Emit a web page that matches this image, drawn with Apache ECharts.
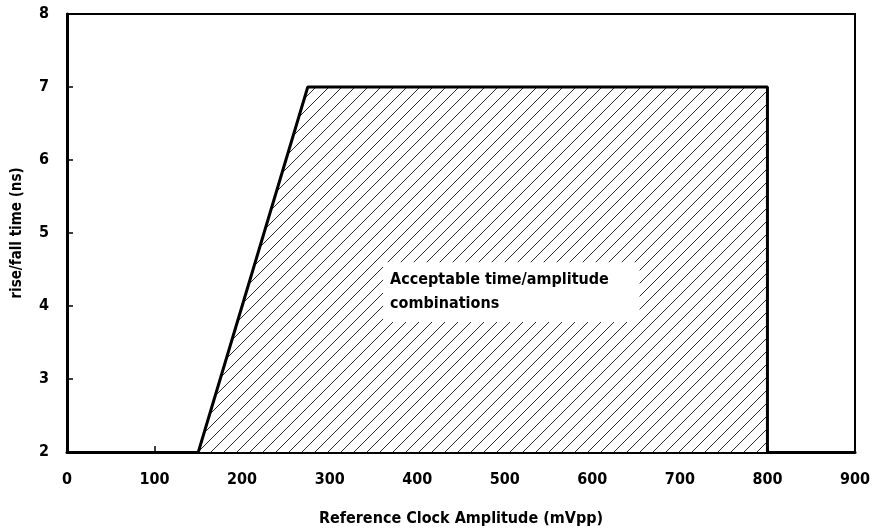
<!DOCTYPE html>
<html><head><meta charset="utf-8">
<script src="https://cdn.jsdelivr.net/npm/echarts@6/dist/echarts.min.js"></script>
<style>html,body{margin:0;padding:0;background:#fff}#c{width:878px;height:529px}</style>
</head><body><div id="c"></div>
<script>
const xTicks = [0,100,200,300,400,500,600,700,800,900];
const yTicks = [2,3,4,5,6,7,8];
const regionX = [150, 275, 800, 800];
const regionY = [2, 7, 7, 2];
const noteText = ['Acceptable time/amplitude', 'combinations'];
const noteBox = [[361, 4.60], [654, 3.78]];

const FONT = '"DejaVu Sans Condensed","Liberation Sans Narrow",sans-serif';
const S = 13;
const pc = document.createElement('canvas');
pc.width = S; pc.height = S;
const g = pc.getContext('2d');
g.fillStyle = '#fff'; g.fillRect(0,0,S,S);
g.strokeStyle = '#2a2a2a'; g.lineWidth = 1;
g.beginPath(); g.moveTo(-1,S+1); g.lineTo(S+1,-1); g.stroke();
g.beginPath(); g.moveTo(-1,1); g.lineTo(1,-1); g.stroke();
g.beginPath(); g.moveTo(S-1,S+1); g.lineTo(S+1,S-1); g.stroke();

const chart = echarts.init(document.getElementById('c'), null, {renderer:'canvas'});
chart.setOption({
  animation:false,
  backgroundColor:'#fff',
  grid:{left:67,right:23,top:14,bottom:77,outerBoundsMode:'none',containLabel:false,show:true,borderColor:'#000',borderWidth:2,backgroundColor:'transparent'},
  xAxis:{type:'value',min:xTicks[0],max:xTicks[xTicks.length-1],interval:100,
    name:'Reference Clock Amplitude (mVpp)',nameLocation:'middle',nameGap:59,
    nameTextStyle:{fontFamily:FONT,fontWeight:'bold',fontSize:16,color:'#000'},
    axisLine:{lineStyle:{color:'#000',width:3}},
    axisTick:{inside:true,length:6,lineStyle:{color:'#000',width:1.5}},
    axisLabel:{fontFamily:FONT,fontWeight:'bold',fontSize:16,color:'#000',margin:20},
    splitLine:{show:false}},
  yAxis:{type:'value',min:yTicks[0],max:yTicks[yTicks.length-1],interval:1,
    name:'rise/fall time (ns)',nameLocation:'middle',nameGap:42,
    nameTextStyle:{fontFamily:FONT,fontWeight:'bold',fontSize:15,color:'#000'},
    axisLine:{lineStyle:{color:'#000',width:3}},
    axisTick:{inside:true,length:6,lineStyle:{color:'#000',width:1.5}},
    axisLabel:{fontFamily:FONT,fontWeight:'bold',fontSize:16,color:'#000',margin:18},
    splitLine:{show:false}},
  series:[{
    type:'line',
    data:regionX.map((x,i)=>[x,regionY[i]]),
    symbol:'none',
    lineStyle:{color:'#000',width:3},
    areaStyle:{color:{image:pc,repeat:'repeat'},opacity:1,origin:'start'},
    z:3
  },{
    type:'custom',
    data:[[noteBox[0][0],noteBox[0][1],noteBox[1][0],noteBox[1][1]]],
    z:5,
    renderItem:function(params, api){
      const p1 = api.coord([api.value(0), api.value(1)]);
      const p2 = api.coord([api.value(2), api.value(3)]);
      return {type:'group',children:[
        {type:'rect',shape:{x:p1[0],y:p1[1],width:p2[0]-p1[0],height:p2[1]-p1[1]},style:{fill:'#fff'}},
        {type:'text',x:p1[0]+7,y:p1[1]+6,style:{text:noteText.join('\n'),font:'bold 16px '+FONT,lineHeight:24,fill:'#000'}}
      ]};
    }
  }]
});
</script></body></html>
